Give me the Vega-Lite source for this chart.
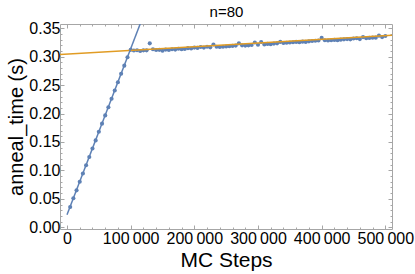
{
  "$schema": "https://vega.github.io/schema/vega-lite/v6.json",
  "width": 332,
  "height": 205,
  "autosize": {"type": "none"},
  "padding": {"left": 60, "top": 24, "right": 23, "bottom": 45},
  "background": "white",
  "config": {
    "view": {"stroke": "#A6A6A6", "strokeWidth": 1},
    "axis": {"grid": false, "domain": false, "tickColor": "#A6A6A6", "labelFont": "Liberation Sans", "titleFont": "Liberation Sans", "labelColor": "#000000", "titleColor": "#000000", "titleFontWeight": "normal", "labelOverlap": false, "labelFlush": false, "labelBound": false}
  },
  "datasets": {
    "pts": [
      {"x": 5000, "y": 0.0356}, {"x": 10000, "y": 0.0510}, {"x": 15000, "y": 0.0650}, {"x": 20000, "y": 0.0800},
      {"x": 25000, "y": 0.0945}, {"x": 30000, "y": 0.1092}, {"x": 35000, "y": 0.1236}, {"x": 40000, "y": 0.1385},
      {"x": 45000, "y": 0.1528}, {"x": 50000, "y": 0.1680}, {"x": 55000, "y": 0.1822}, {"x": 60000, "y": 0.1968},
      {"x": 65000, "y": 0.2112}, {"x": 70000, "y": 0.2260}, {"x": 75000, "y": 0.2405}, {"x": 80000, "y": 0.2550},
      {"x": 85000, "y": 0.2700}, {"x": 90000, "y": 0.2843}, {"x": 95000, "y": 0.2990}, {"x": 100000, "y": 0.3120},
      {"x": 105000, "y": 0.3110}, {"x": 110000, "y": 0.3113}, {"x": 115000, "y": 0.3100}, {"x": 120000, "y": 0.3112},
      {"x": 125000, "y": 0.3112}, {"x": 130000, "y": 0.3235}, {"x": 135000, "y": 0.3130}, {"x": 140000, "y": 0.3118},
      {"x": 145000, "y": 0.3120}, {"x": 150000, "y": 0.3105}, {"x": 155000, "y": 0.3125}, {"x": 160000, "y": 0.3118},
      {"x": 165000, "y": 0.3130}, {"x": 170000, "y": 0.3125}, {"x": 175000, "y": 0.3140}, {"x": 180000, "y": 0.3130},
      {"x": 185000, "y": 0.3135}, {"x": 190000, "y": 0.3150}, {"x": 195000, "y": 0.3145}, {"x": 200000, "y": 0.3160},
      {"x": 205000, "y": 0.3155}, {"x": 210000, "y": 0.3170}, {"x": 215000, "y": 0.3160}, {"x": 220000, "y": 0.3175},
      {"x": 225000, "y": 0.3165}, {"x": 230000, "y": 0.3215}, {"x": 235000, "y": 0.3175}, {"x": 240000, "y": 0.3170},
      {"x": 245000, "y": 0.3175}, {"x": 250000, "y": 0.3180}, {"x": 255000, "y": 0.3185}, {"x": 260000, "y": 0.3190},
      {"x": 265000, "y": 0.3195}, {"x": 270000, "y": 0.3235}, {"x": 275000, "y": 0.3200}, {"x": 280000, "y": 0.3195},
      {"x": 285000, "y": 0.3200}, {"x": 290000, "y": 0.3205}, {"x": 295000, "y": 0.3250}, {"x": 300000, "y": 0.3210},
      {"x": 305000, "y": 0.3258}, {"x": 310000, "y": 0.3215}, {"x": 315000, "y": 0.3225}, {"x": 320000, "y": 0.3220},
      {"x": 325000, "y": 0.3230}, {"x": 330000, "y": 0.3235}, {"x": 335000, "y": 0.3260}, {"x": 340000, "y": 0.3240},
      {"x": 345000, "y": 0.3245}, {"x": 350000, "y": 0.3250}, {"x": 355000, "y": 0.3255}, {"x": 360000, "y": 0.3260},
      {"x": 365000, "y": 0.3255}, {"x": 370000, "y": 0.3265}, {"x": 375000, "y": 0.3260}, {"x": 380000, "y": 0.3270},
      {"x": 385000, "y": 0.3275}, {"x": 390000, "y": 0.3280}, {"x": 395000, "y": 0.3285}, {"x": 400000, "y": 0.3330},
      {"x": 405000, "y": 0.3290}, {"x": 410000, "y": 0.3285}, {"x": 415000, "y": 0.3290}, {"x": 420000, "y": 0.3295},
      {"x": 425000, "y": 0.3290}, {"x": 430000, "y": 0.3300}, {"x": 435000, "y": 0.3305}, {"x": 440000, "y": 0.3310},
      {"x": 445000, "y": 0.3305}, {"x": 450000, "y": 0.3320}, {"x": 455000, "y": 0.3325}, {"x": 460000, "y": 0.3310},
      {"x": 465000, "y": 0.3345}, {"x": 470000, "y": 0.3325}, {"x": 475000, "y": 0.3330}, {"x": 480000, "y": 0.3335},
      {"x": 485000, "y": 0.3335}, {"x": 490000, "y": 0.3370}, {"x": 495000, "y": 0.3345}, {"x": 500000, "y": 0.3365}
    ],
    "lin": [{"x": 0, "y": 0.022}, {"x": 120000, "y": 0.3724}],
    "flat": [{"x": -11000, "y": 0.3037}, {"x": 510500, "y": 0.3377}]
  },
  "resolve": {"axis": {"x": "independent", "y": "independent"}},
  "layer": [
    {
      "data": {"name": "pts"},
      "mark": {"type": "point", "filled": true, "size": 17, "color": "#5E81B5", "opacity": 1},
      "encoding": {
        "x": {"field": "x", "type": "quantitative", "scale": {"domain": [-11000, 510500], "nice": false, "zero": false},
              "axis": {"orient": "bottom", "values": [0, 100000, 200000, 300000, 400000, 500000], "labelExpr": "replace(format(datum.value, ','), ',', '\u2009')", "labelFontSize": 16, "labelPadding": 5, "tickSize": -4, "title": "MC Steps", "titleFontSize": 21, "titlePadding": 3}},
        "y": {"field": "y", "type": "quantitative", "scale": {"domain": [-0.003, 0.3575], "nice": false, "zero": false},
              "axis": {"orient": "left", "values": [0, 0.05, 0.1, 0.15, 0.2, 0.25, 0.3, 0.35], "format": ".2f", "labelFontSize": 16, "labelPadding": 4, "tickSize": -4, "title": "anneal_time (s)", "titleFontSize": 20, "titlePadding": 2}}
      }
    },
    {
      "data": {"name": "flat"},
      "mark": {"type": "line", "color": "#E19C24", "strokeWidth": 1.5, "clip": true},
      "encoding": {
        "x": {"field": "x", "type": "quantitative", "scale": {"domain": [-11000, 510500], "nice": false, "zero": false},
              "axis": {"orient": "top", "values": [0, 100000, 200000, 300000, 400000, 500000], "labels": false, "tickSize": -4, "title": "n=80", "titleFontSize": 15, "titlePadding": 4}},
        "y": {"field": "y", "type": "quantitative", "scale": {"domain": [-0.003, 0.3575], "nice": false, "zero": false},
              "axis": {"orient": "right", "values": [0, 0.05, 0.1, 0.15, 0.2, 0.25, 0.3, 0.35], "labels": false, "tickSize": -4, "title": null}}
      }
    },
    {
      "data": {"name": "lin"},
      "mark": {"type": "line", "color": "#5E81B5", "strokeWidth": 1.5, "clip": true},
      "encoding": {
        "x": {"field": "x", "type": "quantitative", "scale": {"domain": [-11000, 510500], "nice": false, "zero": false},
              "axis": {"orient": "bottom", "values": [20000, 40000, 60000, 80000, 120000, 140000, 160000, 180000, 220000, 240000, 260000, 280000, 320000, 340000, 360000, 380000, 420000, 440000, 460000, 480000], "labels": false, "tickSize": -2, "title": null}},
        "y": {"field": "y", "type": "quantitative", "scale": {"domain": [-0.003, 0.3575], "nice": false, "zero": false},
              "axis": {"orient": "left", "values": [0.01, 0.02, 0.03, 0.04, 0.06, 0.07, 0.08, 0.09, 0.11, 0.12, 0.13, 0.14, 0.16, 0.17, 0.18, 0.19, 0.21, 0.22, 0.23, 0.24, 0.26, 0.27, 0.28, 0.29, 0.31, 0.32, 0.33, 0.34], "labels": false, "tickSize": -2, "title": null}}
      }
    },
    {
      "data": {"name": "flat"},
      "mark": {"type": "line", "opacity": 0, "clip": true},
      "encoding": {
        "x": {"field": "x", "type": "quantitative", "scale": {"domain": [-11000, 510500], "nice": false, "zero": false},
              "axis": {"orient": "top", "values": [20000, 40000, 60000, 80000, 120000, 140000, 160000, 180000, 220000, 240000, 260000, 280000, 320000, 340000, 360000, 380000, 420000, 440000, 460000, 480000], "labels": false, "tickSize": -2, "title": null}},
        "y": {"field": "y", "type": "quantitative", "scale": {"domain": [-0.003, 0.3575], "nice": false, "zero": false},
              "axis": {"orient": "right", "values": [0.01, 0.02, 0.03, 0.04, 0.06, 0.07, 0.08, 0.09, 0.11, 0.12, 0.13, 0.14, 0.16, 0.17, 0.18, 0.19, 0.21, 0.22, 0.23, 0.24, 0.26, 0.27, 0.28, 0.29, 0.31, 0.32, 0.33, 0.34], "labels": false, "tickSize": -2, "title": null}}
      }
    }
  ]
}
